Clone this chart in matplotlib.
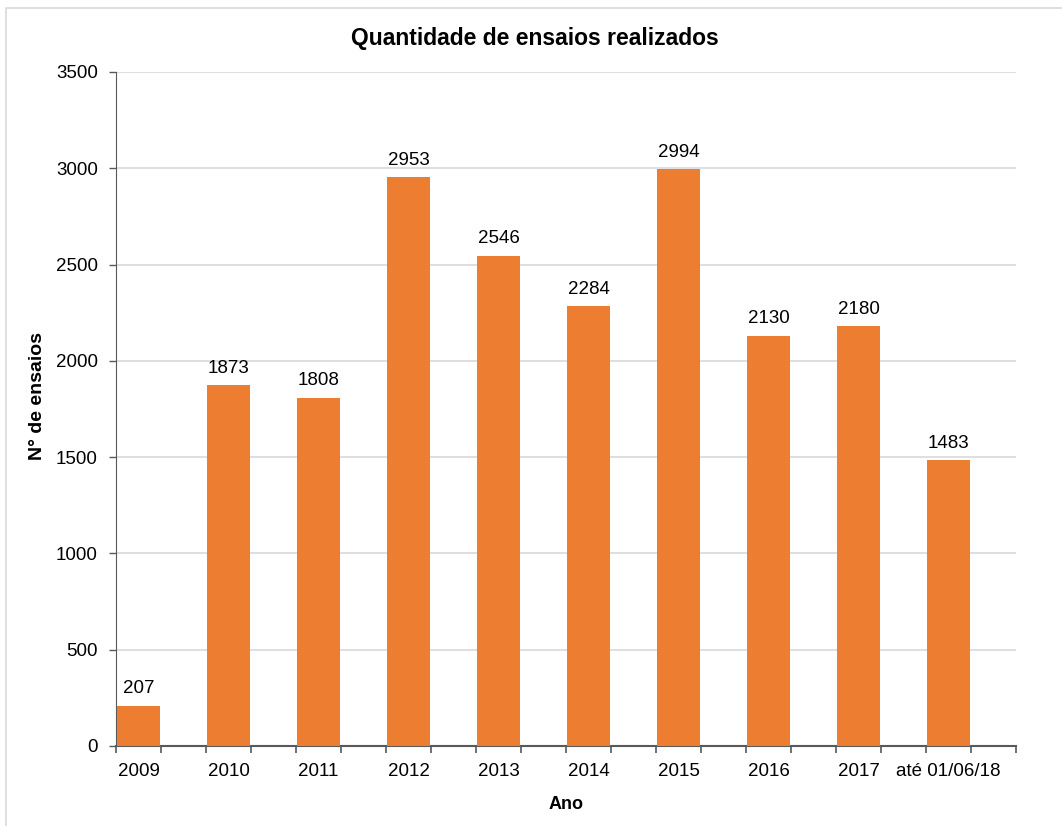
import matplotlib.pyplot as plt
from matplotlib.patches import Rectangle

anos = ["2009", "2010", "2011", "2012", "2013", "2014", "2015", "2016", "2017", "até 01/06/18"]
ensaios = [207, 1873, 1808, 2953, 2546, 2284, 2994, 2130, 2180, 1483]

plt.rcParams['font.family'] = ['Liberation Sans', 'DejaVu Sans']

fig = plt.figure(figsize=(10.62, 8.26), dpi=100)
ax = fig.add_axes([116 / 1062, 80 / 826, 900 / 1062, 674 / 826])

# borda do gráfico
fig.patches.append(Rectangle((6 / 1062, -0.01), 1.1, 1 - 8 / 826 + 0.01,
                             transform=fig.transFigure, fill=False,
                             edgecolor='#D9D9D9', linewidth=1.2))

pos = [i + 0.25 for i in range(len(anos))]
bars = ax.bar(pos, ensaios, width=0.48, color='#ED7D31', zorder=3)

for b, v in zip(bars, ensaios):
    ax.text(b.get_x() + b.get_width() / 2, v + 45, str(v),
            ha='center', va='bottom', fontsize=13.5, color='black')

ax.set_xlim(0, len(anos))
ax.set_ylim(0, 3500)
ax.set_yticks(range(0, 3501, 500))
ax.yaxis.grid(True, color='#D9D9D9', linewidth=1.2, zorder=0)

ax.set_xticks(pos)
ax.set_xticklabels(anos)
ax.tick_params(axis='x', which='major', length=0, pad=12, labelsize=13.5)
ax.set_xticks([i * 0.5 for i in range(2 * len(anos) + 1)], minor=True)
ax.tick_params(axis='x', which='minor', length=5, width=1.2, color='#595959')
ax.tick_params(axis='y', length=5, width=1, color='#595959', labelsize=13.5, pad=8)

for s in ['top', 'right']:
    ax.spines[s].set_visible(False)
ax.spines['left'].set_color('#595959')
ax.spines['bottom'].set_color('#595959')
ax.spines['bottom'].set_linewidth(1.5)

fig.text(535 / 1062, 1 - 38 / 826, "Quantidade de ensaios realizados",
         fontsize=16.5, fontweight='bold', ha='center', va='center')
ax.set_xlabel("Ano", fontsize=13, fontweight='bold', labelpad=12)
ax.set_ylabel("N° de ensaios", fontsize=14, fontweight='bold')
ax.yaxis.set_label_coords((46 - 116) / 900, (746 - 396) / 674)

fig.savefig("out.png", dpi=100)
